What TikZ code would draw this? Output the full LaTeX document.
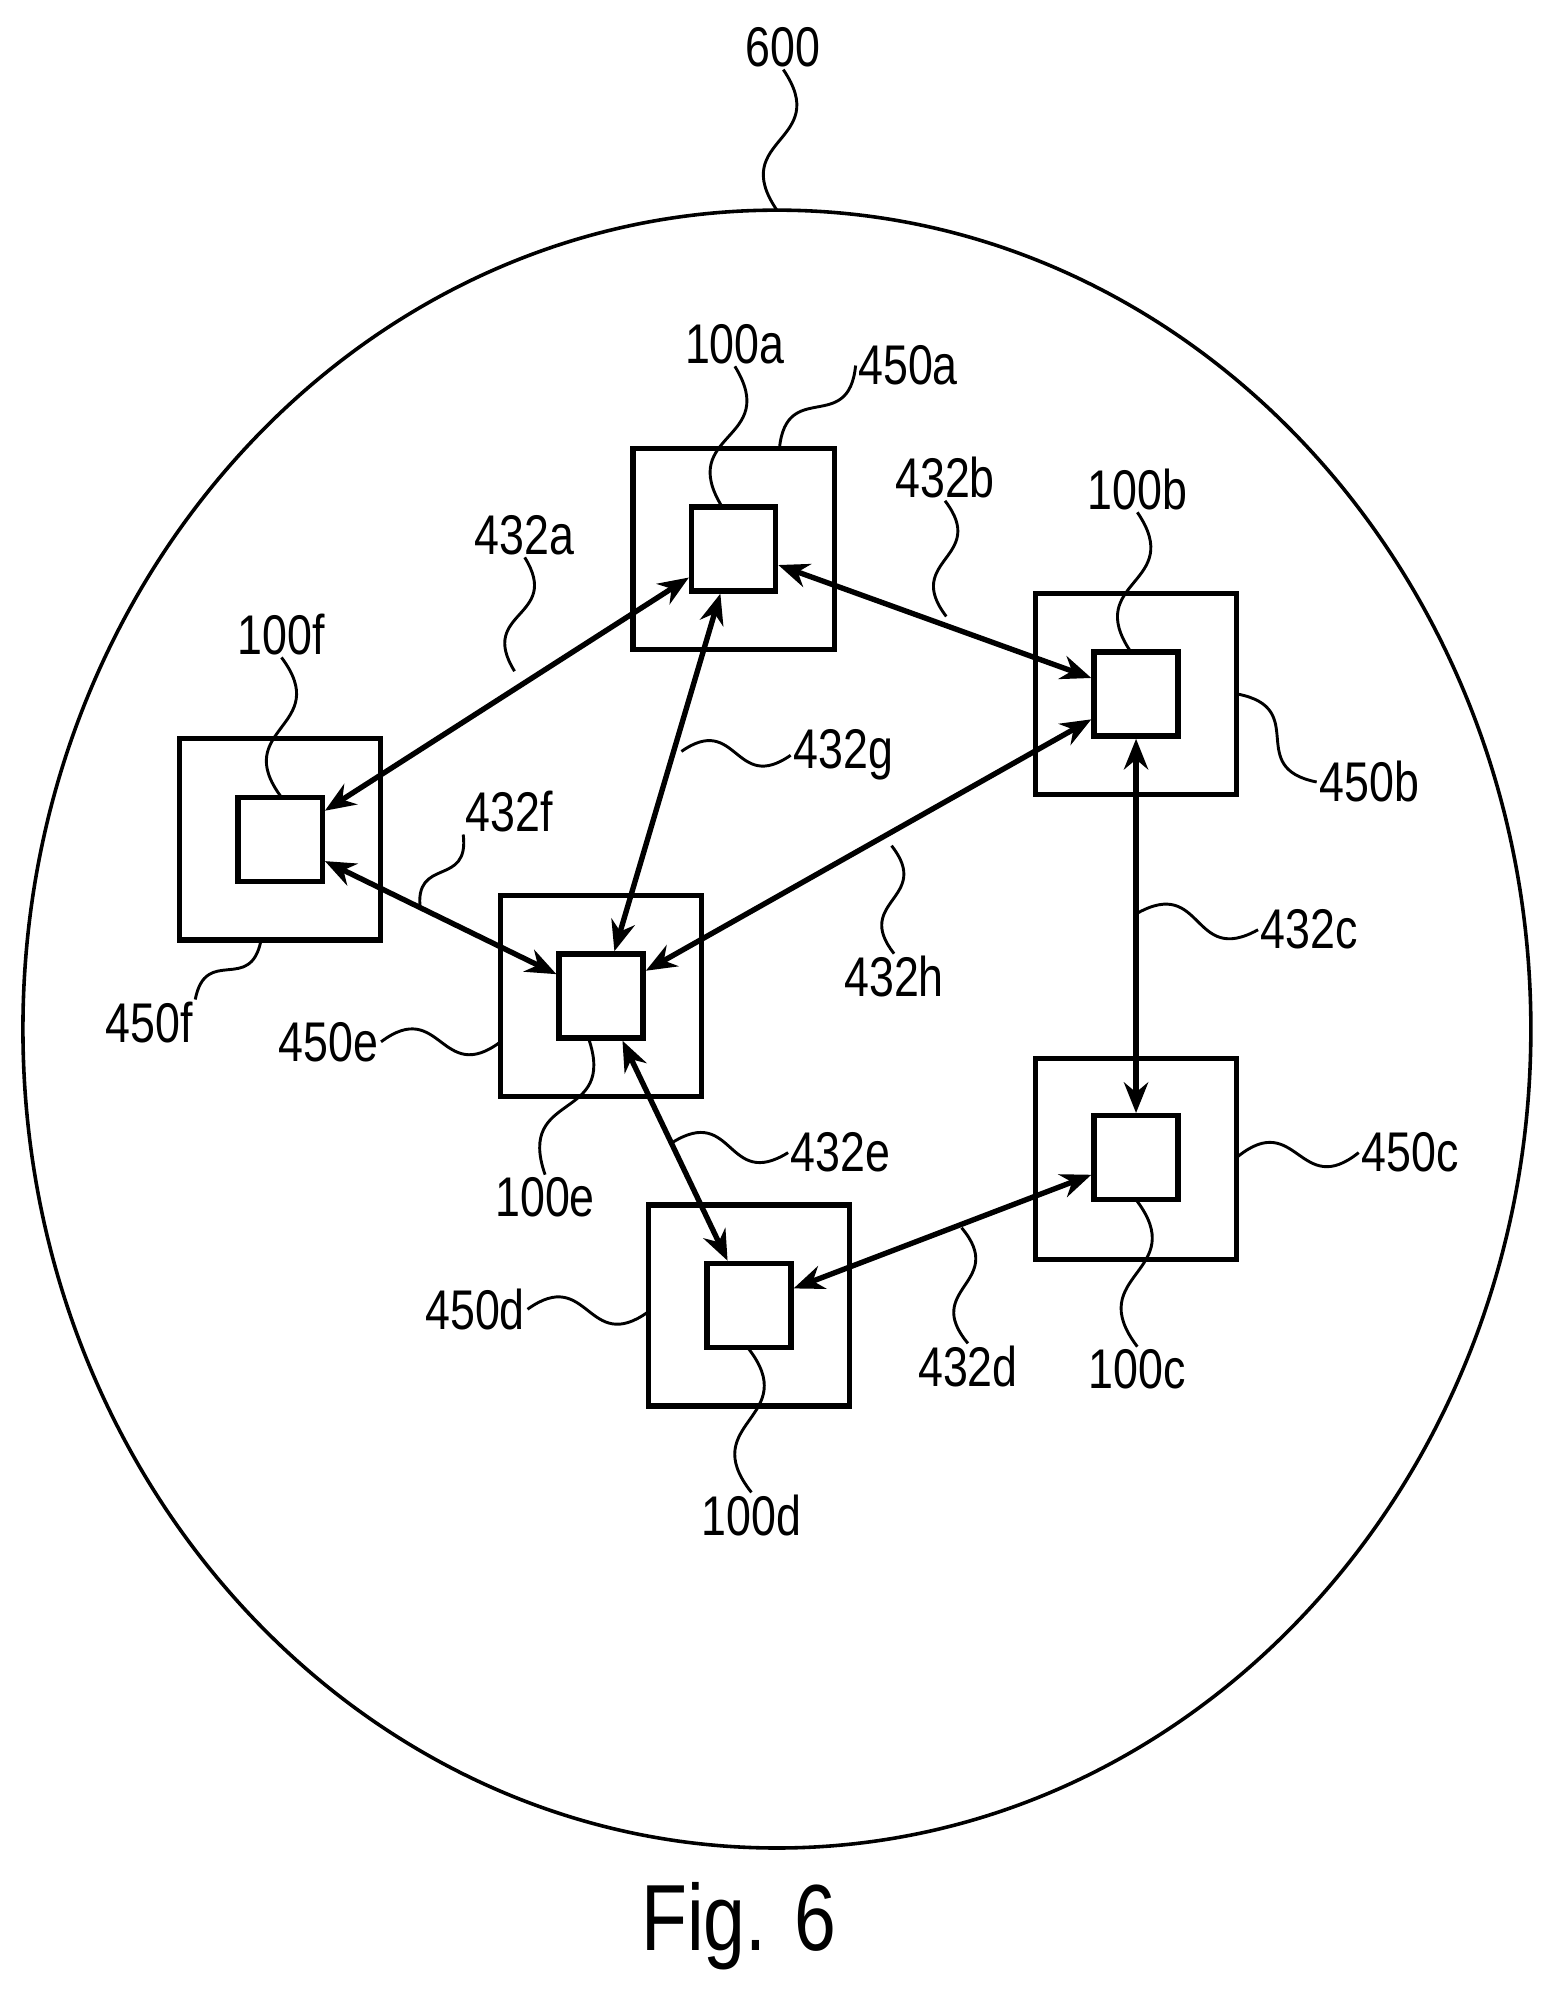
\documentclass[tikz,border=0pt]{standalone}
\usepackage{fontspec}
\setmainfont[FakeStretch=0.8]{Liberation Sans}
\usetikzlibrary{arrows.meta,calc}
\tikzset{
 outerbox/.style={draw,line width=2.4pt,minimum size=3.16cm,inner sep=0pt},
 innerbox/.style={draw,line width=2.4pt,minimum size=1.32cm,inner sep=0pt},
 link/.style={line width=2.4pt,{Stealth[length=4.8mm,width=3.8mm]}-{Stealth[length=4.8mm,width=3.8mm]}},
 lead/.style={line width=1.3pt},
 lbl/.style={font=\fontsize{25}{28}\selectfont,inner sep=1pt}
}
\newcommand\lead[2]{\coordinate (mm) at ($(#1)!0.5!(#2)$);
 \draw[lead] (#1) .. controls ($(mm)!0.75!90:(#2)$) and ($(mm)!0.75!-90:(#2)$) .. (#2);}
\begin{document}
\begin{tikzpicture}[x=0.02cm,y=-0.02cm]
\useasboundingbox (0,0) rectangle (1220,1568);
\draw[line width=1.6pt] (610,808) ellipse [x radius=592, y radius=643];
% boxes
\node[outerbox] (Oa) at (576,431) {}; \node[innerbox] (a) at (576,431) {};
\node[outerbox] (Ob) at (892,545) {}; \node[innerbox] (b) at (892,545) {};
\node[outerbox] (Oc) at (892,910) {}; \node[innerbox] (c) at (892,909) {};
\node[outerbox] (Od) at (588,1025) {}; \node[innerbox] (d) at (588,1025) {};
\node[outerbox] (Oe) at (472,782) {}; \node[innerbox] (e) at (472,782) {};
\node[outerbox] (Of) at (220,659) {}; \node[innerbox] (f) at (220,659) {};
% links
\draw[link] (f) -- (a);
\draw[link] (a) -- (b);
\draw[link] (b) -- (c);
\draw[link] (c) -- (d);
\draw[link] (e) -- (d);
\draw[link] (f) -- (e);
\draw[link] (a) -- (e);
\draw[link] (b) -- (e);
% labels
\node[lbl] (L600) at (615,37) {600}; \coordinate (t600) at (610,165);
\node[lbl] (L100a) at (577,270) {100a}; \coordinate (t100a) at (567,398);
\node[lbl] (L450a) at (713,287) {450a}; \coordinate (t450a) at (612,352);
\node[lbl] (L432b) at (742,375) {432b}; \coordinate (t432b) at (743,484);
\node[lbl] (L100b) at (893,384) {100b}; \coordinate (t100b) at (888,512);
\node[lbl] (L432a) at (412,420) {432a}; \coordinate (t432a) at (404,527);
\node[lbl] (L100f) at (221,498) {100f}; \coordinate (t100f) at (221,626);
\node[lbl] (L432g) at (662,593) {432g}; \coordinate (t432g) at (535,590);
\node[lbl] (L450b) at (1075,614) {450b}; \coordinate (t450b) at (972,545);
\node[lbl] (L432f) at (400,637) {432f}; \coordinate (t432f) at (330,714);
\node[lbl] (L432h) at (702,767) {432h}; \coordinate (t432h) at (700,664);
\node[lbl] (L432c) at (1028,730) {432c}; \coordinate (t432c) at (893,717);
\node[lbl] (L450f) at (117,803) {450f}; \coordinate (t450f) at (205,738);
\node[lbl] (L450e) at (258,818) {450e}; \coordinate (t450e) at (393,818);
\node[lbl] (L100e) at (428,940) {100e}; \coordinate (t100e) at (462,815);
\node[lbl] (L432e) at (660,905) {432e}; \coordinate (t432e) at (528,897);
\node[lbl] (L450c) at (1107,905) {450c}; \coordinate (t450c) at (972,908);
\node[lbl] (L450d) at (373,1028) {450d}; \coordinate (t450d) at (509,1030);
\node[lbl] (L432d) at (760,1073) {432d}; \coordinate (t432d) at (755,964);
\node[lbl] (L100c) at (893,1075) {100c}; \coordinate (t100c) at (892,942);
\node[lbl] (L100d) at (590,1190) {100d}; \coordinate (t100d) at (587,1058);
\lead{L600.south}{t600}
\lead{L100a.south}{t100a}
\lead{L450a.west}{t450a}
\lead{L432b.south}{t432b}
\lead{L100b.south}{t100b}
\lead{L432a.south}{t432a}
\lead{L100f.south}{t100f}
\lead{L432g.west}{t432g}
\lead{L450b.west}{t450b}
\lead{L432f.south west}{t432f}
\lead{L432h.north}{t432h}
\lead{L432c.west}{t432c}
\lead{L450f.north east}{t450f}
\lead{L450e.east}{t450e}
\lead{L100e.north}{t100e}
\lead{L432e.west}{t432e}
\lead{L450c.west}{t450c}
\lead{L450d.east}{t450d}
\lead{L432d.north}{t432d}
\lead{L100c.north}{t100c}
\lead{L100d.north}{t100d}
\node[font=\fontsize{42}{46}\selectfont] (fig) at (580,1512) {Fig. 6};
\end{tikzpicture}
\end{document}
